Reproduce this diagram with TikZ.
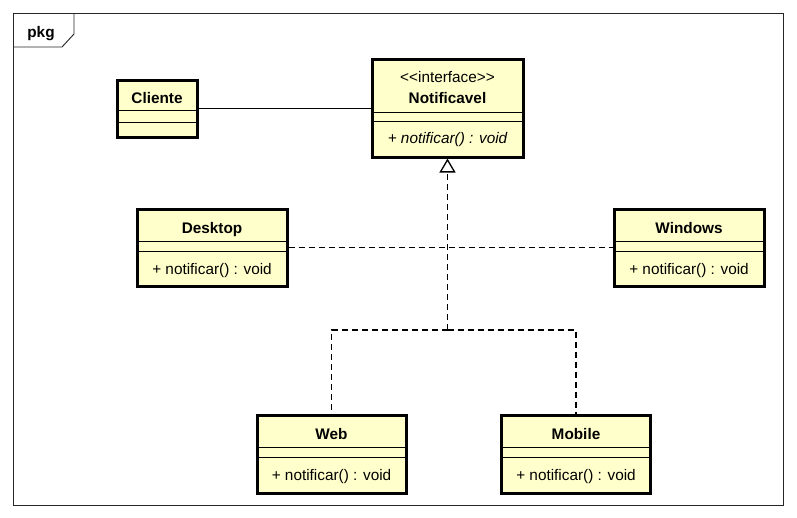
\documentclass[tikz,border=0pt]{standalone}
\usepackage{fontspec}
\setmainfont{Liberation Sans}
\usetikzlibrary{arrows.meta}
\definecolor{clsfill}{RGB}{255,255,204}
\tikzset{
  cls/.style={draw=black, line width=2.25pt, fill=clsfill, inner sep=0pt},
  sep/.style={draw=black, line width=0.7pt},
  title/.style={font=\bfseries\fontsize{11.5pt}{13pt}\selectfont, inner sep=0pt, anchor=base},
  member/.style={font=\fontsize{11.5pt}{13pt}\selectfont, inner sep=0pt, anchor=base},
  frame/.style={draw=black!85, line width=0.7pt},
  conn/.style={draw=black, line width=0.75pt},
  dconn/.style={draw=black, line width=1pt, dash pattern=on 4.5pt off 3pt},
  realize/.style={-{Triangle[open, length=10.5pt, width=12pt, fill=white, line width=1pt]}},
}
\begin{document}
\begin{tikzpicture}[x=0.75pt,y=-0.75pt]
\useasboundingbox (0,0) rectangle (797,518);
% package frame
\draw[frame] (13,13) rectangle (783,505);
\draw[frame] (13,47) -- (62,47) -- (74,34) -- (74,13);
\node[title, font=\bfseries\fontsize{11.5pt}{13pt}\selectfont] (pkg) at (41,37) {pkg};

% Cliente
\node[cls, minimum width=60pt, minimum height=42.75pt] (cli) at (157,108.5) {};
\node[title] (clit) at (157,103) {Cliente};
\draw[sep] (117,110) -- (197,110);
\draw[sep] (117,122) -- (197,122);

% Notificavel
\node[cls, minimum width=113.25pt, minimum height=73.5pt] (notif) at (447.5,108) {};
\node[member] (notst) at (447.5,82) {<\kern0pt<interface>\kern0pt>};
\node[title] (nott) at (447.5,103) {Notificavel};
\draw[sep] (372,112) -- (523,112);
\draw[sep] (372,121) -- (523,121);
\node[member, font=\itshape\fontsize{11.5pt}{13pt}\selectfont] (notm) at (447.5,143) {+ notificar() : void};

% Desktop
\node[cls, minimum width=112.5pt, minimum height=57.75pt] (desk) at (212,247.5) {};
\node[title] (deskt) at (212,233) {Desktop};
\draw[sep] (137,241) -- (287,241);
\draw[sep] (137,251) -- (287,251);
\node[member] (deskm) at (212,274) {+ notificar() : void};

% Windows
\node[cls, minimum width=112.5pt, minimum height=57.75pt] (win) at (689,247.5) {};
\node[title] (wint) at (689,233) {Windows};
\draw[sep] (614,241) -- (764,241);
\draw[sep] (614,251) -- (764,251);
\node[member] (winm) at (689,274) {+ notificar() : void};

% Web
\node[cls, minimum width=111.75pt, minimum height=58.5pt] (web) at (331.5,454) {};
\node[title] (webt) at (331.5,439) {Web};
\draw[sep] (257,447) -- (406,447);
\draw[sep] (257,457) -- (406,457);
\node[member] (webm) at (331.5,480) {+ notificar() : void};

% Mobile
\node[cls, minimum width=111.75pt, minimum height=58.5pt] (mob) at (576,454) {};
\node[title] (mobt) at (576,439) {Mobile};
\draw[sep] (501,447) -- (651,447);
\draw[sep] (501,457) -- (651,457);
\node[member] (mobm) at (576,480) {+ notificar() : void};

% connectors
\draw[conn] (cli.east) -- (cli.east -| notif.west);
\coordinate (j2) at (447.5,330);
\draw[dconn] (desk.east) -- (win.west);
\draw[dconn] (j2) -| (web.north);
\draw[dconn] (j2) -| (mob.north);
\draw[dconn, realize] (j2) -- (notif.south);
\end{tikzpicture}
\end{document}
